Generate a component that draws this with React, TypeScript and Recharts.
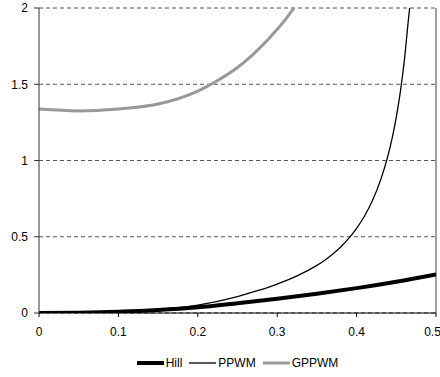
import React from 'react';
import { LineChart, Line, XAxis, YAxis, CartesianGrid, Legend, ReferenceLine } from 'recharts';

const xTicks = [0, 0.1, 0.2, 0.3, 0.4, 0.5];
const yTicks = [0, 0.5, 1, 1.5, 2];

const hillX = [0, 0.05, 0.1, 0.15, 0.2, 0.25, 0.3, 0.35, 0.4, 0.45, 0.5];
const hillY = [0, 0.002, 0.008, 0.019, 0.037, 0.064, 0.093, 0.126, 0.163, 0.205, 0.253];

const ppwmX = [0, 0.05, 0.1, 0.15, 0.2, 0.25, 0.275, 0.3, 0.325, 0.35, 0.36, 0.37, 0.38, 0.39, 0.4, 0.41, 0.42, 0.43, 0.44, 0.445, 0.45, 0.455, 0.46, 0.465, 0.4668];
const ppwmY = [0, 0.001, 0.007, 0.024, 0.052, 0.108, 0.146, 0.19, 0.243, 0.312, 0.346, 0.387, 0.433, 0.489, 0.555, 0.636, 0.738, 0.868, 1.042, 1.152, 1.285, 1.447, 1.65, 1.911, 2.0];

const gppwmX = [0, 0.05, 0.1, 0.15, 0.2, 0.225, 0.25, 0.26, 0.27, 0.28, 0.29, 0.3, 0.31, 0.321];
const gppwmY = [1.337, 1.325, 1.338, 1.37, 1.455, 1.525, 1.61, 1.652, 1.698, 1.748, 1.802, 1.86, 1.922, 2.0];

const names = ['Hill', 'PPWM', 'GPPWM'];

const zip = (xs: number[], ys: number[]) => xs.map((x, i) => ({ x, y: ys[i] }));
const hillData = zip(hillX, hillY);
const ppwmData = zip(ppwmX, ppwmY);
const gppwmData = zip(gppwmX, gppwmY);

const styles = [
  { stroke: '#000000', width: 4 },
  { stroke: '#000000', width: 1.3 },
  { stroke: '#999999', width: 3 },
];

const font = '"Liberation Sans", Arial, sans-serif';

const LegendContent = () => (
  <div style={{ display: 'flex', justifyContent: 'center', alignItems: 'center', fontFamily: font, fontSize: 12, color: '#000' }}>
    {names.map((n, i) => (
      <div key={n} style={{ display: 'flex', alignItems: 'center', marginRight: i < names.length - 1 ? 7 : 0 }}>
        <svg width={27} height={10} style={{ display: 'block' }}>
          <line x1={0} y1={5} x2={27} y2={5} stroke={styles[i].stroke} strokeWidth={styles[i].width} />
        </svg>
        <span style={{ marginLeft: 2 }}>{n}</span>
      </div>
    ))}
  </div>
);

export default function App() {
  return (
    <div style={{ position: 'absolute', left: 0, top: 0, width: 440, height: 377, background: '#fff' }}>
      <LineChart width={440} height={377} margin={{ top: 8, right: 4, left: 0, bottom: 34 }}>
        <CartesianGrid horizontal={true} vertical={false} stroke="#555" strokeDasharray="4 3" />
        <XAxis
          type="number"
          dataKey="x"
          domain={[0, 0.5]}
          ticks={xTicks}
          height={30}
          tickSize={4}
          tickMargin={10}
          stroke="#000"
          tick={{ fill: '#000', fontSize: 12, fontFamily: font }}
          allowDataOverflow
        />
        <YAxis
          type="number"
          domain={[0, 2]}
          ticks={yTicks}
          width={39}
          tickSize={5}
          tickMargin={6}
          stroke="#333"
          tick={{ fill: '#000', fontSize: 12, fontFamily: font }}
          allowDataOverflow
        />
        <ReferenceLine x={0.5} stroke="#a0a0a0" strokeWidth={2} />
        <Line data={hillData} dataKey="y" name="Hill" type="monotone" stroke={styles[0].stroke} strokeWidth={styles[0].width} dot={false} isAnimationActive={false} />
        <Line data={ppwmData} dataKey="y" name="PPWM" type="monotone" stroke={styles[1].stroke} strokeWidth={styles[1].width} dot={false} isAnimationActive={false} />
        <Line data={gppwmData} dataKey="y" name="GPPWM" type="monotone" stroke={styles[2].stroke} strokeWidth={styles[2].width} dot={false} isAnimationActive={false} />
        <Legend
          layout="horizontal"
          verticalAlign="middle"
          align="center"
          content={<LegendContent />}
          wrapperStyle={{ top: 356, left: 39, width: 397, height: 14 }}
        />
      </LineChart>
    </div>
  );
}
